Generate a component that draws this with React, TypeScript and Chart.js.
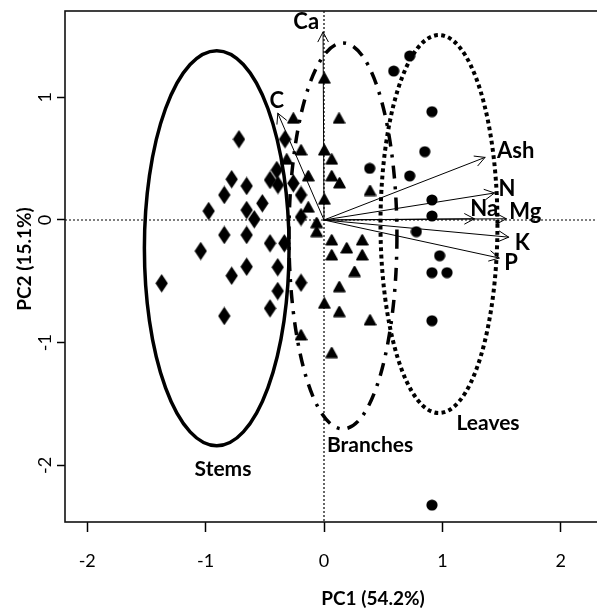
import { useEffect, useRef } from 'react';
import { Chart, registerables } from 'chart.js';

Chart.register(...registerables);

// Axis ticks
const xTicks = [-2, -1, 0, 1, 2];
const yTicks = [-2, -1, 0, 1];

// PCA scores (PC1, PC2) by plant part
const stemsPC1 = [-0.718, -0.329, -0.780, -0.653, -0.842, -0.974, -0.653, -0.521, -0.589, -0.842, -0.653, -1.041, -0.456, -0.335, -0.653, -0.780, -1.371, -0.391, -0.391, -0.456, -0.842, -0.456, -0.399, -0.259, -0.194, -0.194, -0.194, -0.389];
const stemsPC2 = [0.658, 0.658, 0.332, 0.277, 0.204, 0.073, 0.081, 0.136, 0.006, -0.122, -0.122, -0.253, -0.190, -0.190, -0.381, -0.454, -0.516, -0.385, -0.579, -0.720, -0.782, 0.326, 0.407, 0.299, 0.204, 0.024, -0.511, 0.285];

const branchesPC1 = [0.003, -0.259, 0.127, -0.194, 0.003, 0.065, -0.315, -0.133, 0.065, 0.131, 0.003, 0.389, -0.133, -0.062, -0.062, 0.065, 0.192, 0.323, 0.065, 0.323, 0.258, 0.129, 0.003, 0.129, 0.389, -0.194, 0.065];
const branchesPC2 = [1.155, 0.829, 0.829, 0.570, 0.570, 0.495, 0.495, 0.359, 0.359, 0.302, 0.169, 0.240, 0.104, -0.022, -0.095, -0.163, -0.228, -0.163, -0.285, -0.285, -0.420, -0.544, -0.679, -0.747, -0.815, -0.937, -1.081];

const leavesPC1 = [0.724, 0.589, 0.912, 0.851, 0.386, 0.724, 0.912, 0.912, 0.780, 0.977, 0.912, 1.039, 0.912, 0.912];
const leavesPC2 = [1.337, 1.214, 0.883, 0.557, 0.421, 0.359, 0.163, 0.033, -0.095, -0.291, -0.429, -0.429, -0.821, -2.323];

// Variable loadings
const loadingNames = ['Ca', 'C', 'Ash', 'N', 'Na', 'Mg', 'K', 'P'];
const loadingPC1 = [-0.008, -0.39, 1.36, 1.44, 1.27, 1.54, 1.56, 1.48];
const loadingPC2 = [1.532, 0.87, 0.51, 0.22, 0.01, 0.01, -0.14, -0.31];

// Group ellipses
const groupNames = ['Stems', 'Branches', 'Leaves'];
const ellipseCenterPC1 = [-0.906, 0.160, 0.971];
const ellipseCenterPC2 = [-0.230, -0.130, -0.033];
const ellipseRadiusPC1 = [0.611, 0.456, 0.494];
const ellipseRadiusPC2 = [1.610, 1.573, 1.540];
const groupLabelPC1 = [-0.853, 0.389, 1.385];
const groupLabelPC2 = [-2.021, -1.826, -1.646];

const FONT = 'Lato';

function makeMarker(kind: 'diamond' | 'triangle' | 'circle'): HTMLCanvasElement {
  const c = document.createElement('canvas');
  let w = 12;
  let h = 12;
  if (kind === 'diamond') { w = 13; h = 19; }
  if (kind === 'triangle') { w = 13; h = 12; }
  c.width = w;
  c.height = h;
  const g = c.getContext('2d')!;
  g.fillStyle = '#000';
  g.strokeStyle = '#000';
  g.beginPath();
  if (kind === 'diamond') {
    g.moveTo(w / 2, 0.3);
    g.lineTo(w - 0.3, h / 2);
    g.lineTo(w / 2, h - 0.3);
    g.lineTo(0.3, h / 2);
    g.closePath();
    g.fill();
  } else if (kind === 'triangle') {
    g.lineJoin = 'round';
    g.lineWidth = 1.6;
    g.moveTo(w / 2, 1);
    g.lineTo(w - 1, h - 1.2);
    g.lineTo(1, h - 1.2);
    g.closePath();
    g.fill();
    g.stroke();
  } else {
    g.arc(w / 2, h / 2, 5.6, 0, Math.PI * 2);
    g.fill();
  }
  return c;
}

const ellipseDash: number[][] = [[], [13, 8, 3, 8], [3.8, 3.4]];

const labelOffsets: Record<string, [number, number, CanvasTextAlign]> = {
  Ca: [-4, -11, 'right'],
  C: [-1, -13, 'center'],
  Ash: [12, -7, 'left'],
  N: [4, -5, 'left'],
  Na: [-4, -11, 'left'],
  Mg: [3, -8, 'left'],
  K: [6, 5, 'left'],
  P: [5, 4, 'left'],
};

// the plot region continues past the right edge of the canvas
function clipPlot(chart: any) {
  const { ctx, chartArea: a, width } = chart;
  ctx.beginPath();
  ctx.rect(a.left, a.top, width - a.left, a.bottom - a.top);
  ctx.clip();
}

const biplotLayer = {
  id: 'biplotLayer',
  beforeDatasetsDraw(chart: any) {
    const { ctx, chartArea: a, scales, width } = chart;
    const x0 = scales.x.getPixelForValue(0);
    const y0 = scales.y.getPixelForValue(0);
    ctx.save();
    clipPlot(chart);
    ctx.strokeStyle = '#000';
    ctx.lineWidth = 1.2;
    ctx.setLineDash([2, 2]);
    ctx.beginPath();
    ctx.moveTo(a.left, y0);
    ctx.lineTo(width, y0);
    ctx.moveTo(x0, a.top);
    ctx.lineTo(x0, a.bottom);
    ctx.stroke();
    ctx.restore();
  },
  afterDatasetsDraw(chart: any) {
    const { ctx, scales } = chart;
    const sx = scales.x;
    const sy = scales.y;
    ctx.save();
    clipPlot(chart);

    // group ellipses
    ctx.strokeStyle = '#000';
    groupNames.forEach((_, i) => {
      const cx = sx.getPixelForValue(ellipseCenterPC1[i]);
      const cy = sy.getPixelForValue(ellipseCenterPC2[i]);
      const rx = Math.abs(sx.getPixelForValue(ellipseCenterPC1[i] + ellipseRadiusPC1[i]) - cx);
      const ry = Math.abs(sy.getPixelForValue(ellipseCenterPC2[i] + ellipseRadiusPC2[i]) - cy);
      ctx.lineWidth = i === 2 ? 4 : 3.5;
      ctx.setLineDash(ellipseDash[i]);
      ctx.lineCap = 'butt';
      ctx.beginPath();
      ctx.ellipse(cx, cy, rx, ry, 0, 0, Math.PI * 2);
      ctx.stroke();
    });

    // loading arrows
    ctx.setLineDash([]);
    ctx.lineWidth = 1;
    ctx.lineCap = 'round';
    const ox = sx.getPixelForValue(0);
    const oy = sy.getPixelForValue(0);
    const headLen = 11;
    const headAng = (28 * Math.PI) / 180;
    loadingNames.forEach((_, i) => {
      const tx = sx.getPixelForValue(loadingPC1[i]);
      const ty = sy.getPixelForValue(loadingPC2[i]);
      const ang = Math.atan2(ty - oy, tx - ox);
      ctx.beginPath();
      ctx.moveTo(ox, oy);
      ctx.lineTo(tx, ty);
      ctx.moveTo(tx - headLen * Math.cos(ang - headAng), ty - headLen * Math.sin(ang - headAng));
      ctx.lineTo(tx, ty);
      ctx.lineTo(tx - headLen * Math.cos(ang + headAng), ty - headLen * Math.sin(ang + headAng));
      ctx.stroke();
    });

    // loading labels
    ctx.fillStyle = '#000';
    ctx.textBaseline = 'alphabetic';
    const labSize = 22;
    ctx.font = `bold ${labSize}px ${FONT}`;
    loadingNames.forEach((name, i) => {
      const tx = sx.getPixelForValue(loadingPC1[i]);
      const ty = sy.getPixelForValue(loadingPC2[i]);
      const [dx, dy, align] = labelOffsets[name];
      ctx.textAlign = align;
      ctx.fillText(name, tx + dx, ty + dy + labSize * 0.36);
    });

    // group labels
    const grpSize = 21;
    ctx.font = `bold ${grpSize}px ${FONT}`;
    ctx.textAlign = 'center';
    groupNames.forEach((name, i) => {
      const lx = sx.getPixelForValue(groupLabelPC1[i]);
      const ly = sy.getPixelForValue(groupLabelPC2[i]);
      ctx.fillText(name, lx, ly + grpSize * 0.36);
    });
    ctx.restore();
  },
  afterDraw(chart: any) {
    const { ctx, chartArea: a, width } = chart;
    ctx.save();
    // plot frame (left, top and bottom sides are inside the canvas)
    ctx.strokeStyle = '#111';
    ctx.lineWidth = 1.6;
    ctx.strokeRect(a.left, a.top, width + 20 - a.left, a.bottom - a.top);
    // axis titles
    ctx.fillStyle = '#000';
    ctx.font = `bold 19px ${FONT}`;
    ctx.textAlign = 'center';
    ctx.textBaseline = 'alphabetic';
    ctx.fillText('PC1 (54.2%)', a.left + 308, 605);
    ctx.translate(31, 259);
    ctx.rotate(-Math.PI / 2);
    ctx.fillText('PC2 (15.1%)', 0, 0);
    ctx.restore();
  },
};

export default function App() {
  const canvasRef = useRef<HTMLCanvasElement | null>(null);

  useEffect(() => {
    if (!canvasRef.current) return;
    const diamond = makeMarker('diamond');
    const triangle = makeMarker('triangle');
    const circle = makeMarker('circle');
    const toPts = (xs: number[], ys: number[]) => xs.map((x, i) => ({ x, y: ys[i] }));

    const chart = new Chart(canvasRef.current, {
      type: 'scatter',
      data: {
        datasets: [
          { label: 'Stems', data: toPts(stemsPC1, stemsPC2), pointStyle: diamond as any },
          { label: 'Branches', data: toPts(branchesPC1, branchesPC2), pointStyle: triangle as any },
          { label: 'Leaves', data: toPts(leavesPC1, leavesPC2), pointStyle: circle as any },
        ],
      },
      options: {
        animation: false,
        responsive: false,
        events: [],
        clip: false,
        layout: { padding: { top: 11, left: 0, right: 0, bottom: 0 } },
        plugins: { legend: { display: false }, tooltip: { enabled: false } },
        scales: {
          x: {
            type: 'linear',
            min: -2.1875,
            max: 2.2635,
            afterBuildTicks: (s: any) => { s.ticks = xTicks.map((v) => ({ value: v })); },
            afterFit: (s: any) => {
              s.height = 88;
              s.paddingLeft = 0; s.paddingRight = 0; s.paddingTop = 0; s.paddingBottom = 0;
            },
            border: { display: false },
            grid: { drawOnChartArea: false, drawTicks: true, tickLength: 10, tickWidth: 1.5, tickColor: '#000' },
            ticks: {
              color: '#000',
              font: { family: FONT, size: 18 },
              padding: 18.5,
              maxRotation: 0,
              minRotation: 0,
              callback: (v: any) => String(v),
            },
          },
          y: {
            type: 'linear',
            min: -2.461,
            max: 1.703,
            afterBuildTicks: (s: any) => { s.ticks = yTicks.map((v) => ({ value: v })); },
            afterFit: (s: any) => {
              s.width = 65;
              s.paddingLeft = 0; s.paddingRight = 0; s.paddingTop = 0; s.paddingBottom = 0;
            },
            border: { display: false },
            grid: { drawOnChartArea: false, drawTicks: true, tickLength: 8, tickWidth: 1.5, tickColor: '#000' },
            ticks: {
              color: '#000',
              font: { family: FONT, size: 18 },
              padding: 3,
              minRotation: 90,
              maxRotation: 90,
              crossAlign: 'center',
              callback: (v: any) => String(v),
            },
          },
        },
      },
      plugins: [biplotLayer],
    });
    return () => chart.destroy();
  }, []);

  return (
    <div style={{ position: 'fixed', left: 0, top: 0, width: 597, height: 610, background: '#fff' }}>
      <canvas ref={canvasRef} width={597} height={610} style={{ display: 'block' }} />
    </div>
  );
}
